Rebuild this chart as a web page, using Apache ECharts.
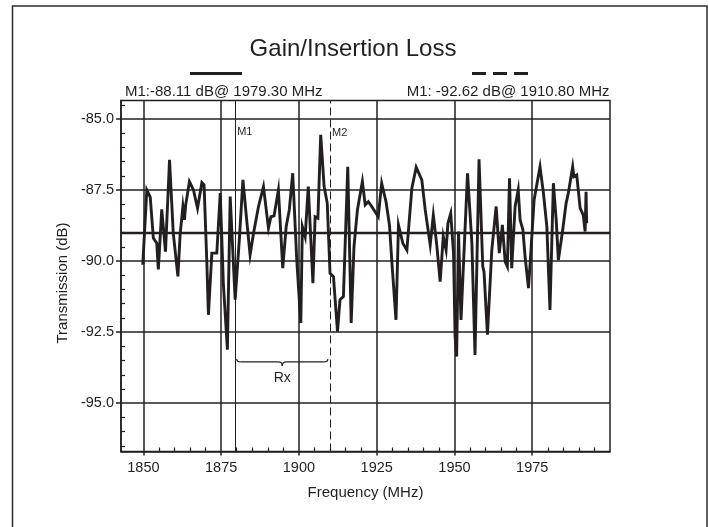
<!DOCTYPE html>
<html>
<head>
<meta charset="utf-8">
<script src="https://cdn.jsdelivr.net/npm/echarts@6/dist/echarts.min.js"></script>
<style>
  html, body { margin: 0; padding: 0; background: #ffffff; }
  #chart { width: 709px; height: 527px; }
</style>
</head>
<body>
<div id="chart"></div>
<script>
// ---- data ----
const freqMHz = [
  1849.8, 1851.1, 1852.2, 1853.2, 1854.3, 1854.8, 1855.9, 1856.4, 1857.1, 1858.4,
  1859.6, 1861.1, 1861.8, 1862.7, 1863.2, 1863.6, 1864.8, 1866.1, 1867.4, 1868.8,
  1869.5, 1870.4, 1870.9, 1872.0, 1873.6, 1874.7, 1875.7, 1877.0, 1877.9, 1879.5,
  1880.9, 1882.0, 1883.2, 1884.3, 1885.4, 1887.0, 1888.6, 1890.2, 1891.0, 1892.0,
  1893.4, 1894.8, 1895.9, 1896.9, 1898.0, 1899.3, 1900.6, 1901.1, 1902.0, 1903.0,
  1904.5, 1905.2, 1906.1, 1907.0, 1908.1, 1909.1, 1910.0, 1911.1, 1912.4, 1913.2,
  1914.3, 1915.7, 1916.8, 1917.7, 1918.8, 1920.4, 1921.3, 1922.3, 1923.4, 1925.5,
  1926.6, 1928.0, 1929.1, 1929.9, 1931.2, 1932.0, 1933.4, 1934.7, 1936.3, 1937.7,
  1939.5, 1940.6, 1942.2, 1943.2, 1944.3, 1945.4, 1946.4, 1947.3, 1947.9, 1948.8,
  1949.7, 1950.2, 1950.7, 1951.3, 1952.1, 1954.2, 1955.6, 1956.6, 1957.9, 1959.1,
  1959.5, 1960.6, 1962.0, 1963.4, 1964.4, 1965.4, 1966.3, 1967.0, 1967.7, 1968.4,
  1968.9, 1969.5, 1970.5, 1971.1, 1972.0, 1972.7, 1973.8, 1974.6, 1975.6, 1977.5,
  1978.6, 1979.7, 1980.7, 1981.8, 1982.7, 1983.4, 1984.8, 1985.9, 1986.6, 1988.0,
  1988.4, 1989.3, 1990.4, 1991.4, 1992.0, 1992.3, 1992.5
];
const transmissionDb = [
  -90.13, -87.50, -87.75, -89.19, -89.37, -90.29, -88.18, -88.20, -89.67, -86.44,
  -89.02, -90.54, -89.08, -88.08, -88.55, -88.02, -87.20, -87.50, -88.14, -87.24,
  -87.32, -90.07, -91.89, -89.72, -89.72, -87.61, -90.78, -93.12, -87.73, -91.36,
  -89.14, -87.14, -88.55, -89.78, -89.02, -88.08, -87.38, -88.84, -88.44, -88.41,
  -87.50, -90.25, -88.79, -88.20, -86.91, -89.96, -92.18, -88.79, -89.14, -87.38,
  -90.78, -88.44, -88.49, -85.56, -87.38, -87.96, -90.43, -90.55, -92.48, -91.36,
  -91.25, -86.68, -92.18, -89.49, -88.20, -87.20, -88.02, -87.91, -88.08, -88.44,
  -87.26, -87.91, -88.73, -90.07, -92.07, -88.73, -89.37, -89.61, -87.44, -86.70,
  -87.14, -88.20, -89.43, -88.38, -89.43, -90.72, -89.14, -89.61, -88.67, -88.32,
  -89.72, -92.65, -93.36, -88.96, -92.07, -86.91, -89.37, -93.30, -86.42, -90.19,
  -90.37, -92.59, -89.61, -88.08, -89.72, -88.73, -90.02, -90.19, -87.09, -90.25,
  -90.31, -88.08, -87.50, -88.55, -88.90, -89.84, -90.95, -89.61, -87.85, -86.68,
  -87.61, -88.79, -91.72, -87.26, -88.55, -89.96, -88.90, -87.96, -87.61, -86.68,
  -87.03, -86.97, -88.14, -88.38, -88.96, -87.56, -88.67
];
const xTicks = [1850, 1875, 1900, 1925, 1950, 1975];
const xMinorTicks = [1855, 1860, 1865, 1870, 1880, 1885, 1890, 1895, 1905, 1910, 1915, 1920,
  1930, 1935, 1940, 1945, 1955, 1960, 1965, 1970, 1980, 1985, 1990, 1995];
const yTicks = [-85.0, -87.5, -90.0, -92.5, -95.0];
const yMinorTicks = [-84.5, -85.5, -86.0, -86.5, -87.0, -88.0, -88.5, -89.0, -89.5, -90.5, -91.0,
  -91.5, -92.0, -93.0, -93.5, -94.0, -94.5, -95.5, -96.0, -96.5];
const xRange = [1842.8, 2000];
const yRange = [-96.7, -84.35];
const refLevelDb = -89.0;
const markerM1 = 1879.5;
const markerM2 = 1910.0;
const rxBand = [1880.0, 1909.3];
const rxBraceDb = -93.55;
const titleText = 'Gain/Insertion Loss';
const traceLabel1 = 'M1:-88.11 dB@ 1979.30 MHz';
const traceLabel2 = 'M1: -92.62 dB@ 1910.80 MHz';

// ---- chart ----
const INK = '#231f20';
const FONT = '"Liberation Sans", Arial, Helvetica, sans-serif';
const chart = echarts.init(document.getElementById('chart'), null, { renderer: 'canvas' });

const points = freqMHz.map((f, i) => [f, transmissionDb[i]]);

const gridLines = []
  .concat(xTicks.map(v => ({ xAxis: v })))
  .concat(yTicks.map(v => ({ yAxis: v })));

const option = {
  animation: false,
  backgroundColor: '#ffffff',
  grid: {
    left: 121, top: 100.5, right: 99, bottom: 75.5,
    show: true, borderColor: INK, borderWidth: 1.5, backgroundColor: 'transparent'
  },
  xAxis: [
    {
      type: 'value', min: xRange[0], max: xRange[1], position: 'bottom',
      axisLine: { show: true, onZero: false, lineStyle: { color: INK, width: 1.5 } },
      axisTick: { show: true, customValues: xTicks, inside: false, length: 4, lineStyle: { color: INK, width: 1.5 } },
      axisLabel: { customValues: xTicks, color: INK, fontSize: 14.5, fontFamily: FONT, margin: 9,
        formatter: v => String(v) },
      splitLine: { show: false },
      name: 'Frequency (MHz)', nameLocation: 'middle', nameGap: 34,
      nameTextStyle: { color: INK, fontSize: 15, fontFamily: FONT }
    },
    {
      type: 'value', min: xRange[0], max: xRange[1], position: 'bottom',
      axisLine: { show: false, onZero: false },
      axisTick: { show: true, customValues: xMinorTicks, inside: true, length: 4, lineStyle: { color: INK, width: 1.2 } },
      axisLabel: { show: false },
      splitLine: { show: false }
    }
  ],
  yAxis: [
    {
      type: 'value', min: yRange[0], max: yRange[1], position: 'left',
      axisLine: { show: true, onZero: false, lineStyle: { color: INK, width: 1.5 } },
      axisTick: { show: true, customValues: yTicks, inside: false, length: 5, lineStyle: { color: INK, width: 1.5 } },
      axisLabel: { customValues: yTicks, color: INK, fontSize: 14.5, fontFamily: FONT, margin: 7,
        formatter: v => Number(v).toFixed(1) },
      splitLine: { show: false },
      name: 'Transmission (dB)', nameLocation: 'middle', nameGap: 41,
      nameTextStyle: { color: INK, fontSize: 15, fontFamily: FONT, padding: [0, 14, 0, 0] }
    },
    {
      type: 'value', min: yRange[0], max: yRange[1], position: 'left',
      axisLine: { show: false, onZero: false },
      axisTick: { show: true, customValues: yMinorTicks, inside: true, length: 4, lineStyle: { color: INK, width: 1.2 } },
      axisLabel: { show: false },
      splitLine: { show: false }
    }
  ],
  series: [
    {
      name: 'grid', type: 'line', data: [], z: 1, silent: true,
      markLine: {
        silent: true, symbol: ['none', 'none'], animation: false,
        label: { show: false },
        lineStyle: { color: INK, width: 1.5, type: 'solid' },
        data: gridLines.concat([
          { yAxis: refLevelDb, lineStyle: { color: INK, width: 2.3, type: 'solid' } },
          { xAxis: markerM1, lineStyle: { color: INK, width: 1, type: 'solid' } },
          { xAxis: markerM2, lineStyle: { color: INK, width: 1, type: [8, 4] } }
        ])
      }
    },
    {
      name: 'Transmission', type: 'line', data: points, z: 3,
      showSymbol: false, symbol: 'none', smooth: false,
      lineStyle: { color: INK, width: 2.9, join: 'miter' }
    }
  ]
};
chart.setOption(option);

// ---- annotations positioned through the chart's own scales ----
const px = (x, y) => chart.convertToPixel({ gridIndex: 0 }, [x, y]);
const m1Top = px(markerM1, yRange[1]);
const m2Top = px(markerM2, yRange[1]);
const b1 = px(rxBand[0], rxBraceDb);
const b2 = px(rxBand[1], rxBraceDb);
const by = b1[1];
const bx1 = b1[0], bx2 = b2[0], bxc = (bx1 + bx2) / 2;
const braceStyle = { fill: 'none', stroke: INK, lineWidth: 1.2 };

chart.setOption({
  graphic: [
    { type: 'rect', silent: true, shape: { x: 12.5, y: 6, width: 694.5, height: 540 },
      style: { fill: 'none', stroke: '#2b2b2b', lineWidth: 1.5 } },
    { type: 'text', silent: true, x: 353, y: 49,
      style: { text: titleText, fill: INK, font: `24px ${FONT}`, align: 'center', verticalAlign: 'middle' } },
    { type: 'line', silent: true, shape: { x1: 190, y1: 73.5, x2: 242, y2: 73.5 },
      style: { stroke: INK, lineWidth: 3 } },
    { type: 'line', silent: true, shape: { x1: 472, y1: 73.5, x2: 528, y2: 73.5 },
      style: { stroke: INK, lineWidth: 3, lineDash: [14, 7] } },
    { type: 'text', silent: true, x: 125, y: 92,
      style: { text: traceLabel1, fill: INK, font: `15px ${FONT}`, align: 'left', verticalAlign: 'middle' } },
    { type: 'text', silent: true, x: 609.5, y: 92,
      style: { text: traceLabel2, fill: INK, font: `15px ${FONT}`, align: 'right', verticalAlign: 'middle' } },
    { type: 'text', silent: true, x: m1Top[0] + 2, y: m1Top[1] + 31,
      style: { text: 'M1', fill: INK, font: `11px ${FONT}`, align: 'left', verticalAlign: 'middle' } },
    { type: 'text', silent: true, x: m2Top[0] + 2, y: m2Top[1] + 32.5,
      style: { text: 'M2', fill: INK, font: `11px ${FONT}`, align: 'left', verticalAlign: 'middle' } },
    // curly brace for the Rx band
    { type: 'bezierCurve', silent: true,
      shape: { x1: bx1, y1: by - 3, cpx1: bx1, cpy1: by, x2: bx1 + 4, y2: by }, style: braceStyle },
    { type: 'line', silent: true,
      shape: { x1: bx1 + 4, y1: by, x2: bxc - 4, y2: by }, style: braceStyle },
    { type: 'bezierCurve', silent: true,
      shape: { x1: bxc - 4, y1: by, cpx1: bxc, cpy1: by, x2: bxc, y2: by + 4 }, style: braceStyle },
    { type: 'bezierCurve', silent: true,
      shape: { x1: bxc, y1: by + 4, cpx1: bxc, cpy1: by, x2: bxc + 4, y2: by }, style: braceStyle },
    { type: 'line', silent: true,
      shape: { x1: bxc + 4, y1: by, x2: bx2 - 4, y2: by }, style: braceStyle },
    { type: 'bezierCurve', silent: true,
      shape: { x1: bx2 - 4, y1: by, cpx1: bx2, cpy1: by, x2: bx2, y2: by - 3 }, style: braceStyle },
    { type: 'text', silent: true, x: bxc, y: by + 16,
      style: { text: 'Rx', fill: INK, font: `14px ${FONT}`, align: 'center', verticalAlign: 'middle' } }
  ]
});
</script>
</body>
</html>
